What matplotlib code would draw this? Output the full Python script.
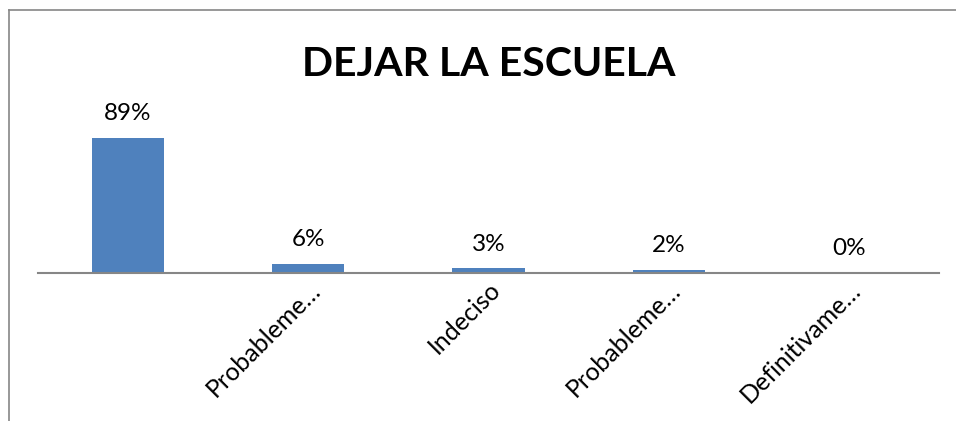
import matplotlib.pyplot as plt
import matplotlib.transforms as mtransforms
from matplotlib.lines import Line2D

# datos
categorias = ['', 'Probableme…', 'Indeciso', 'Probableme…', 'Definitivame…']
porcentajes = [89, 6, 3, 2, 0]
etiquetas = ['89%', '6%', '3%', '2%', '0%']

plt.rcParams['font.family'] = ['Lato', 'DejaVu Sans']

fig = plt.figure(figsize=(9.56, 4.21), dpi=100)
ax = fig.add_axes([38 / 956, 148 / 421, 901 / 956, 152 / 421])

x = range(len(categorias))
ax.bar(x, porcentajes, width=0.4, color='#4F81BD')
ax.set_xlim(-0.5, len(categorias) - 0.5)
ax.set_ylim(0, 100)

for i, (v, t) in enumerate(zip(porcentajes, etiquetas)):
    ax.annotate(t, (i, v), xytext=(0, 10), textcoords='offset points',
                ha='center', va='bottom', fontsize=17.5)

ax.set_xticks(list(x))
ax.set_xticklabels(categorias, rotation=45, ha='right', rotation_mode='anchor', fontsize=18)
offset = mtransforms.ScaledTranslation(38 / 100, -24 / 100, fig.dpi_scale_trans)
for lbl in ax.get_xticklabels():
    lbl.set_transform(lbl.get_transform() + offset)
ax.tick_params(axis='x', length=0)
ax.set_yticks([])

for s in ['top', 'right', 'left']:
    ax.spines[s].set_visible(False)
ax.spines['bottom'].set_color('#868686')
ax.spines['bottom'].set_linewidth(1.5)

fig.text(489 / 956, 1 - 64 / 421, 'DEJAR LA ESCUELA', ha='center', va='center',
         fontsize=29.5, fontweight='bold')

# marco del grafico
fig.add_artist(Line2D([9 / 956, 9 / 956], [0, 1 - 10 / 421], color='#868686', lw=1.2))
fig.add_artist(Line2D([9 / 956, 1], [1 - 10 / 421, 1 - 10 / 421], color='#868686', lw=1.2))

fig.savefig('out.png', dpi=100)
